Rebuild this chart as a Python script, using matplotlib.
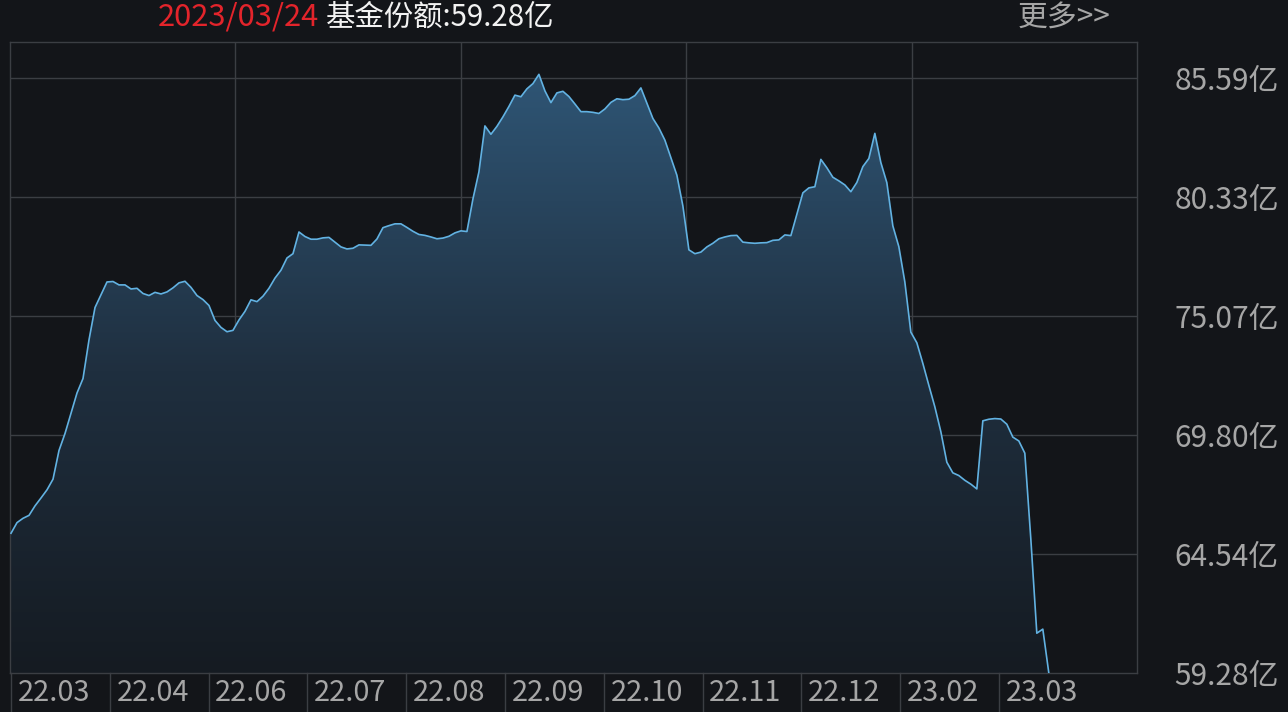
import numpy as np
import matplotlib
matplotlib.use('Agg')
import matplotlib.pyplot as plt
import matplotlib.transforms as mtransforms
from matplotlib.patches import Polygon
from matplotlib.colors import LinearSegmentedColormap

plt.rcParams['font.family'] = ['Noto Sans CJK SC', 'DejaVu Sans']

# ---------------- data ----------------
date_label = '2023/03/24'
title_label = '基金份额:59.28亿'
more_label = '更多>>'
x_labels = ['22.03', '22.04', '22.06', '22.07', '22.08', '22.09',
            '22.10', '22.11', '22.12', '23.02', '23.03']
y_ticks = [59.28, 64.54, 69.80, 75.07, 80.33, 85.59]
y_tick_labels = ['59.28亿', '64.54亿', '69.80亿', '75.07亿', '80.33亿', '85.59亿']

share = [
    65.46, 65.93, 66.12, 66.25, 66.67, 67.02, 67.38, 67.85, 69.12, 69.87,
    70.77, 71.66, 72.30, 74.01, 75.44, 76.00, 76.57, 76.59, 76.44, 76.44,
    76.26, 76.29, 76.06, 75.97, 76.11, 76.04, 76.13, 76.31, 76.53, 76.60,
    76.33, 75.97, 75.79, 75.53, 74.87, 74.56, 74.37, 74.43, 74.89, 75.27,
    75.78, 75.70, 75.94, 76.29, 76.74, 77.09, 77.63, 77.82, 78.78, 78.58,
    78.46, 78.46, 78.52, 78.54, 78.33, 78.12, 78.03, 78.06, 78.21, 78.20,
    78.19, 78.47, 78.97, 79.06, 79.14, 79.14, 78.98, 78.81, 78.67, 78.63,
    78.56, 78.48, 78.51, 78.59, 78.74, 78.83, 78.80, 80.24, 81.44, 83.47,
    83.10, 83.45, 83.87, 84.33, 84.83, 84.76, 85.11, 85.34, 85.75, 85.02,
    84.50, 84.93, 85.00, 84.77, 84.44, 84.10, 84.10, 84.07, 84.02, 84.22,
    84.51, 84.67, 84.63, 84.65, 84.81, 85.15, 84.48, 83.80, 83.38, 82.84,
    82.06, 81.29, 79.93, 77.99, 77.82, 77.89, 78.12, 78.28, 78.48, 78.56,
    78.62, 78.63, 78.33, 78.30, 78.28, 78.30, 78.31, 78.41, 78.43, 78.65,
    78.62, 79.56, 80.51, 80.73, 80.78, 81.99, 81.62, 81.20, 81.04, 80.86,
    80.56, 80.97, 81.67, 82.03, 83.14, 81.85, 80.96, 79.05, 78.13, 76.57,
    74.35, 73.88, 72.97, 72.00, 71.05, 69.95, 68.60, 68.13, 68.01, 67.80,
    67.63, 67.42, 70.43, 70.50, 70.53, 70.51, 70.28, 69.71, 69.54, 69.00,
    65.21, 61.04, 61.22, 59.28,
]

# ---------------- style ----------------
BG = '#131519'
GRID = '#3b3e43'
LINE = '#62b2e2'
TEXT_GRAY = '#a6a6a6'
RED = '#e3242b'
WHITE = '#f2f2f2'

W, H = 1288, 712
fig = plt.figure(figsize=(W / 100, H / 100), dpi=100, facecolor=BG)
ax = fig.add_axes([10 / W, 39 / H, 1127 / W, 631 / H])
ax.set_facecolor(BG)

x = np.arange(len(share))
y = np.array(share)
ymin, ymax = 59.28, 87.18
xmin, xmax = -0.17, 187.7
ax.set_xlim(xmin, xmax)
ax.set_ylim(ymin, ymax)

# gradient fill under the line
verts = np.column_stack([np.r_[x[0], x, x[-1]], np.r_[ymin, y, ymin]])
poly = Polygon(verts, closed=True, facecolor='none', edgecolor='none')
ax.add_patch(poly)
cmap = LinearSegmentedColormap.from_list('fill', ['#151b22', '#1f2f3f', '#2f5676'])
grad = np.linspace(1, 0, 256).reshape(-1, 1)
im = ax.imshow(grad, cmap=cmap, extent=[xmin, xmax, ymin, 86.0],
               aspect='auto', origin='upper', zorder=1, interpolation='bilinear')
im.set_clip_path(poly)

ax.plot(x, y, color=LINE, lw=1.2, zorder=3, solid_joinstyle='round')

# grid
for v in y_ticks[1:]:
    ax.axhline(v, color=GRID, lw=1, zorder=0.5)
for k in range(1, 5):
    ax.plot([k / 5, k / 5], [0, 1], transform=ax.transAxes, color=GRID, lw=1, zorder=0.5)

for s in ax.spines.values():
    s.set_color(GRID)
    s.set_linewidth(1)

# y axis on right
ax.yaxis.tick_right()
ax.set_yticks(y_ticks)
ax.set_yticklabels(y_tick_labels)
ax.tick_params(axis='y', length=0, pad=27, labelsize=21.5, labelcolor=TEXT_GRAY)
ax.set_xticks([])

# x label cells below the plot
trans = mtransforms.blended_transform_factory(ax.transData, ax.transAxes)
cell_w = 16.47
cell_h = 39 / 631
for k, lab in enumerate(x_labels):
    xs = k * cell_w
    ax.plot([xs, xs], [0, -cell_h], transform=trans, color=GRID, lw=1, clip_on=False)
    ax.text(xs + 1.1, -20 / 631, lab, transform=trans, ha='left', va='center',
            fontsize=20.8, color=TEXT_GRAY, clip_on=False)

# header
fig.text(158 / W, 1 - 17 / H, date_label, color=RED, fontsize=22.2, ha='left', va='center')
fig.text(326 / W, 1 - 17 / H, title_label, color=WHITE, fontsize=21.2, ha='left', va='center')
fig.text(1018 / W, 1 - 18 / H, more_label, color=TEXT_GRAY, fontsize=21.5, ha='left', va='center')

fig.savefig('out.png', dpi=100, facecolor=BG)
